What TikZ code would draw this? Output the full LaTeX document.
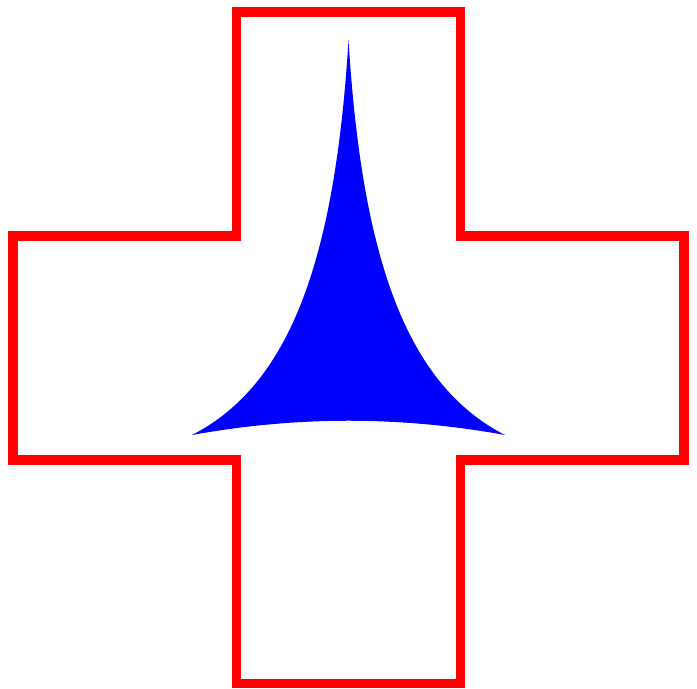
\documentclass[tikz,border=0pt]{standalone}
\usepackage{tikz}
\usepackage{xcolor}
\definecolor{crossred}{HTML}{FF0000}
\definecolor{spikeblue}{HTML}{0000FF}
\tikzset{
  crossline/.style={draw=crossred,line width=0.095cm,line join=miter},
  spikefill/.style={fill=spikeblue,draw=none}
}

\begin{document}
\begin{tikzpicture}[x=0.01cm,y=-0.01cm]
  \useasboundingbox (0,0) rectangle (697,689);
  % red cross outline
  \draw[crossline] (236.5,12) -- (460.5,12) -- (460.5,236) -- (684,236)
    -- (684,460) -- (460.5,460) -- (460.5,683.5) -- (236.5,683.5)
    -- (236.5,460) -- (13,460) -- (13,236) -- (236.5,236) -- cycle;
  % blue curved triangle
  \coordinate (tip) at (348.5,40);
  \coordinate (bl) at (192,435);
  \coordinate (br) at (505,435);
  \fill[spikefill] (tip) .. controls (335,260) and (290,385) .. (bl)
    .. controls (297,416) and (400,416) .. (br)
    .. controls (407,385) and (362,260) .. (tip) -- cycle;
\end{tikzpicture}
\end{document}
